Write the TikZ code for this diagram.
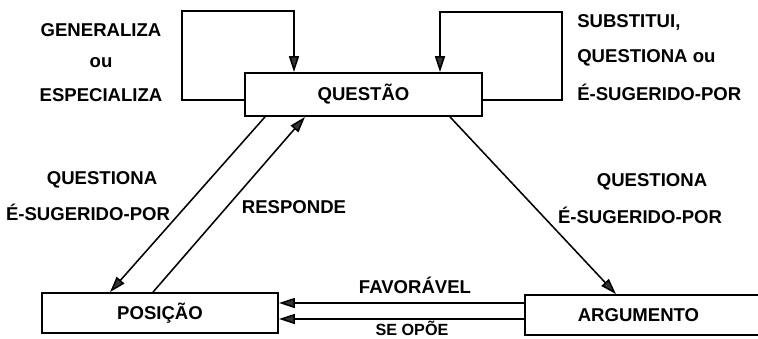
\documentclass[tikz,border=0pt]{standalone}
\usepackage{fontspec}
\setmainfont{Liberation Sans}
\usetikzlibrary{arrows.meta}
\begin{document}
\begin{tikzpicture}[x=0.025cm,y=-0.025cm,
  lbl/.style={font=\fontsize{13.2}{15}\selectfont\bfseries, inner sep=0pt},
  box/.style={draw, line width=1.3pt, minimum height=1cm, inner sep=0pt, font=\fontsize{13.2}{15}\selectfont\bfseries},
  conn/.style={line width=1.1pt},
  arr/.style={conn, -{Triangle[length=4mm,width=2.5mm,fill=black!80]}}]
\useasboundingbox (0,0) rectangle (758,338);
\node[box, minimum width=5.925cm, minimum height=1.075cm] (q) at (363.5,94.5) {QUESTÃO};
\node[box, minimum width=5.9cm] (p) at (160,313) {POSIÇÃO};
\node[box, minimum width=6.625cm] (a) at (657.5,315) {\hspace*{-0.95cm}ARGUMENTO};
% loops
\coordinate (lt) at (294,11);
\coordinate (rt) at (440,12);
\draw[arr] ([yshift=-1.4mm]q.west) -| (182,11) -- (lt) -- (lt |- q.north);
\draw[arr] ([yshift=-1.4mm]q.east) -| (562,12) -- (rt) -- (rt |- q.north);
% diagonals
\draw[arr] ([xshift=-2.4625cm]q.south) -- ([xshift=-1.25cm]p.north);
\draw[arr] ([xshift=-0.175cm]p.north) -- ([xshift=-1.4625cm]q.south);
\draw[arr] ([xshift=2.1625cm]q.south) -- ([xshift=-1.0375cm]a.north);
% horizontals
\coordinate (f1) at ([yshift=3.0mm]a.west);
\coordinate (f2) at ([yshift=-1.0mm]a.west);
\draw[arr] (f1) -- (f1 -| p.east);
\draw[arr] (f2) -- (f2 -| p.east);
% labels
\node[lbl] (l1) at (101,30) {GENERALIZA};
\node[lbl] (l2) at (101,63) {ou};
\node[lbl] (l3) at (101,95) {ESPECIALIZA};
\node[lbl, anchor=west] (r1) at (577,22) {SUBSTITUI,};
\node[lbl, anchor=west] (r2) at (577,58) {QUESTIONA ou};
\node[lbl, anchor=west] (r3) at (577,92) {É-SUGERIDO-POR};
\node[lbl] (d1) at (102,180) {QUESTIONA};
\node[lbl] (d2) at (88,212) {É-SUGERIDO-POR};
\node[lbl] (d3) at (294,207) {RESPONDE};
\node[lbl] (e1) at (652,182) {QUESTIONA};
\node[lbl] (e2) at (640,215) {É-SUGERIDO-POR};
\node[lbl] (h1) at (415,285) {FAVORÁVEL};
\node[lbl, font=\fontsize{11.5}{13}\selectfont\bfseries, anchor=south] (h2) at (412,336) {SE OPÕE};
\end{tikzpicture}
\end{document}
